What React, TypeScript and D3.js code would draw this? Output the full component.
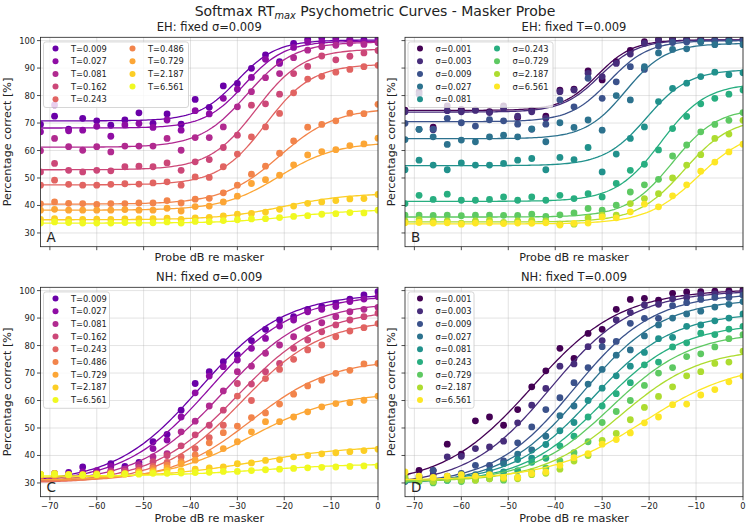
import React from 'react';
import * as d3 from 'd3';

// ---------- data ----------
const probeDb = [-72, -69, -66, -63, -60, -57, -54, -51, -48, -45, -42, -39, -36, -33, -30, -27, -24, -21, -18, -15, -12, -9, -6, -3, 0];
const xTickValues = [-70, -60, -50, -40, -30, -20, -10, 0];
const yTickValues = [30, 40, 50, 60, 70, 80, 90, 100];
const temperatureLabels = ['T=0.009', 'T=0.027', 'T=0.081', 'T=0.162', 'T=0.243', 'T=0.486', 'T=0.729', 'T=2.187', 'T=6.561'];
const sigmaLabels = ['σ=0.001', 'σ=0.003', 'σ=0.009', 'σ=0.027', 'σ=0.081', 'σ=0.243', 'σ=0.729', 'σ=2.187', 'σ=6.561'];
const panelTitles = ['EH: fixed σ=0.009', 'EH: fixed T=0.009', 'NH: fixed σ=0.009', 'NH: fixed T=0.009'];
const panelLetters = ['A', 'B', 'C', 'D'];

// EH, fixed sigma (rows: temperature)
const ehFixedSigmaPoints = [
  [69.5, 72.5, 67.8, 71.7, 70.8, 69.2, 71.1, 73.7, 69.9, 73.3, 69.6, 78.6, 75.7, 83.5, 84.4, 89.9, 94.8, 92.3, 99.0, 100.5, 101.0, 100.8, 100.5, 100.3, 100.8],
  [66.8, 76.6, 67.2, 67.4, 68.8, 65.2, 69.3, 69.8, 68.4, 71.1, 67.4, 74.5, 73.3, 79.0, 82.3, 86.6, 93.2, 91.7, 97.5, 99.5, 99.6, 99.8, 100.2, 99.5, 99.8],
  [59.9, 64.4, 61.4, 60.1, 61.4, 59.5, 61.6, 61.6, 61.6, 64.4, 60.1, 64.7, 64.7, 68.6, 75.9, 81.4, 86.5, 88.0, 93.8, 96.5, 97.8, 98.3, 99.0, 98.6, 99.2],
  [52.2, 55.3, 52.8, 52.2, 52.8, 52.6, 54.1, 54.3, 54.1, 55.5, 52.8, 55.9, 56.7, 61.1, 65.6, 76.5, 77.0, 80.5, 88.0, 90.6, 94.4, 93.0, 94.3, 95.5, 96.4],
  [47.4, 49.2, 47.7, 47.4, 47.4, 47.7, 47.9, 47.8, 48.2, 48.6, 47.4, 50.4, 50.2, 54.1, 58.7, 65.0, 68.6, 73.5, 81.0, 86.0, 87.0, 88.5, 89.5, 90.5, 91.0],
  [40.6, 41.3, 40.8, 40.7, 40.4, 40.7, 40.7, 40.9, 40.9, 41.8, 40.9, 42.3, 42.6, 44.6, 47.4, 51.4, 54.3, 59.0, 63.5, 68.5, 69.5, 70.8, 73.6, 73.4, 76.8],
  [38.3, 38.6, 38.3, 38.3, 38.3, 38.3, 38.5, 38.3, 38.3, 39.0, 38.0, 39.6, 39.8, 41.3, 43.4, 48.0, 49.4, 51.0, 54.8, 58.4, 59.6, 60.3, 61.8, 62.4, 64.5],
  [34.9, 35.2, 34.9, 34.9, 35.0, 34.9, 35.1, 35.1, 35.2, 35.4, 34.9, 35.5, 35.7, 36.2, 36.8, 37.1, 37.6, 38.6, 39.8, 40.8, 41.3, 41.8, 42.4, 42.5, 44.0],
  [33.6, 34.0, 33.8, 33.6, 33.6, 33.6, 33.8, 33.6, 33.7, 34.0, 33.6, 34.2, 34.1, 34.5, 34.8, 35.1, 35.2, 35.6, 36.0, 36.3, 36.8, 37.0, 37.4, 37.3, 38.3],
];
// fitted psychometric (logistic) parameters: [lower, upper, midpoint dB, slope dB]
const ehFixedSigmaFits = [
  [70.8, 100.2, -30, 4.2],
  [68.2, 99.8, -28.5, 4.3],
  [61.2, 99.5, -28, 5],
  [53, 97, -26, 5],
  [47.5, 91.5, -24, 5],
  [40.5, 75.5, -21, 6],
  [38.3, 63, -21, 6],
  [34.8, 44.5, -20, 7],
  [33.6, 38.5, -18, 7],
];

// EH, fixed T (rows: sigma)
const ehFixedTPoints = [
  [74.7, 81.4, 68.5, 76.2, 75.0, 74.8, 74.1, 76.2, 72.0, 74.7, 72.5, 82.0, 82.3, 89.0, 85.7, 92.3, 96.4, 99.6, 100.5, 100.8, 100.5, 100.8, 100.3, 100.6, 100.5],
  [74.1, 80.5, 67.6, 74.5, 74.1, 74.6, 73.8, 75.4, 72.5, 74.1, 71.7, 81.4, 82.0, 88.1, 86.9, 91.7, 95.1, 99.0, 100.0, 100.2, 100.4, 100.1, 100.2, 100.0, 100.3],
  [69.9, 67.7, 67.8, 71.7, 70.1, 68.9, 71.2, 70.8, 69.6, 67.7, 69.6, 78.4, 75.9, 86.3, 79.0, 85.0, 90.5, 89.5, 98.0, 99.3, 99.5, 99.7, 99.8, 100.0, 99.9],
  [64.0, 67.7, 65.0, 62.2, 63.8, 63.2, 65.0, 65.6, 65.0, 67.9, 63.2, 70.1, 68.4, 71.1, 67.4, 80.0, 78.4, 90.5, 95.5, 96.8, 97.0, 99.5, 98.5, 99.6, 98.5],
  [53.0, 56.5, 54.7, 53.0, 55.5, 54.7, 54.7, 55.3, 56.5, 57.1, 53.0, 57.5, 56.7, 61.1, 52.2, 58.7, 64.4, 68.6, 77.8, 82.6, 84.5, 86.9, 88.5, 87.6, 88.3],
  [40.7, 43.7, 42.2, 44.1, 41.9, 41.9, 42.2, 43.1, 41.9, 43.1, 41.9, 43.7, 42.5, 44.3, 43.1, 48.0, 52.8, 55.0, 60.2, 68.0, 72.4, 77.0, 79.0, 80.5, 82.0],
  [36.5, 36.5, 36.4, 36.5, 36.3, 36.5, 36.5, 36.4, 36.4, 36.8, 36.0, 36.6, 37.3, 38.9, 38.3, 40.1, 44.9, 47.5, 49.5, 58.0, 62.0, 66.8, 69.5, 71.0, 73.8],
  [34.4, 34.8, 34.4, 34.4, 33.6, 34.4, 34.7, 33.8, 34.4, 34.6, 34.4, 33.2, 33.2, 35.5, 36.5, 36.5, 40.7, 42.5, 44.3, 50.0, 54.7, 58.5, 64.4, 66.0, 71.0],
  [33.7, 33.8, 33.6, 33.7, 33.2, 33.6, 33.7, 33.4, 33.6, 33.5, 33.7, 32.9, 33.5, 33.6, 35.8, 35.5, 37.7, 40.5, 39.5, 43.5, 47.5, 52.5, 55.8, 59.5, 62.3],
];
const ehFixedTFits = [
  [74.6, 100.3, -31, 3.8],
  [74.0, 100.2, -30.5, 4],
  [70.5, 100, -28.5, 4.2],
  [64.3, 99, -25, 4.3],
  [54.5, 89.5, -20.5, 4.5],
  [41.5, 84.5, -17.5, 4.8],
  [35.8, 75.5, -15, 4.8],
  [34, 72, -12.5, 5],
  [33.3, 68, -9.5, 5.5],
];

// NH, fixed sigma (rows: temperature)
const nhFixedSigmaPoints = [
  [33.0, 33.5, 33.8, 35.8, 34.0, 37.0, 36.0, 37.5, 45.0, 47.7, 56.5, 66.2, 70.5, 74.1, 76.6, 81.8, 85.9, 89.3, 90.5, 93.2, 94.2, 95.4, 96.9, 98.4, 99.6],
  [32.5, 33.0, 33.0, 34.0, 34.5, 36.0, 35.0, 36.5, 42.5, 45.6, 54.0, 62.8, 68.9, 72.3, 74.7, 79.0, 82.6, 87.1, 89.3, 92.3, 93.2, 94.2, 96.0, 96.9, 97.8],
  [32.0, 32.5, 32.3, 33.0, 33.5, 34.5, 35.0, 36.5, 39.5, 40.7, 48.6, 52.5, 58.0, 63.5, 70.5, 72.5, 77.2, 80.2, 83.2, 86.3, 88.3, 90.5, 92.3, 93.2, 93.9],
  [32.5, 32.8, 32.5, 33.0, 33.5, 34.0, 34.3, 35.6, 37.8, 40.0, 43.5, 47.5, 51.0, 56.5, 66.2, 66.0, 70.5, 73.5, 79.0, 82.0, 85.0, 87.5, 89.3, 90.5, 91.8],
  [32.3, 32.5, 32.3, 32.5, 33.0, 33.2, 33.6, 34.5, 36.0, 37.5, 39.5, 42.5, 46.5, 51.0, 61.6, 60.0, 68.0, 71.3, 75.0, 78.4, 80.2, 83.2, 85.3, 86.5, 88.0],
  [33.0, 33.0, 33.0, 32.8, 32.8, 33.2, 33.5, 34.5, 35.3, 36.5, 37.8, 40.2, 44.6, 48.3, 50.7, 53.8, 55.5, 58.7, 62.3, 65.3, 67.4, 69.9, 71.0, 73.3, 73.5],
  [33.0, 33.2, 32.8, 32.8, 33.0, 33.0, 33.3, 33.6, 34.5, 35.5, 37.0, 38.3, 40.8, 42.5, 45.0, 48.6, 52.3, 52.3, 54.0, 55.9, 57.7, 58.9, 59.2, 60.1, 61.6],
  [33.0, 33.5, 33.0, 33.0, 33.2, 33.5, 33.3, 33.8, 34.0, 34.5, 34.5, 35.0, 35.5, 35.8, 37.0, 37.3, 38.2, 38.5, 39.5, 40.0, 40.6, 41.0, 41.4, 41.8, 42.3],
  [33.2, 33.3, 33.0, 32.8, 33.0, 33.0, 33.3, 33.2, 33.5, 33.5, 33.6, 33.8, 33.9, 34.2, 34.2, 34.5, 34.8, 35.0, 35.3, 35.5, 35.7, 35.8, 36.0, 36.2, 36.2],
];
const nhFixedSigmaFits = [
  [30, 99, -38, 9],
  [30, 98.5, -36, 9],
  [30, 96, -33, 9],
  [30, 93.5, -30, 9],
  [30, 89.5, -29, 8.5],
  [30.5, 75, -27, 8.5],
  [31, 63, -27, 9],
  [32, 43.5, -26, 10],
  [32.5, 37, -25, 10],
];

// NH, fixed T (rows: sigma)
const nhFixedTPoints = [
  [33.0, 34.6, 34.5, 44.1, 40.5, 52.6, 54.0, 51.0, 56.7, 65.0, 70.8, 79.0, 75.3, 84.4, 85.9, 93.2, 96.8, 97.2, 96.5, 99.0, 99.5, 99.6, 99.8, 100.0, 100.3],
  [31.5, 32.5, 33.0, 39.5, 39.7, 42.5, 43.1, 45.2, 51.9, 58.3, 64.4, 72.5, 73.3, 79.6, 81.8, 89.3, 92.0, 94.8, 95.0, 97.0, 97.5, 98.5, 98.8, 99.0, 99.5],
  [31.0, 31.5, 34.6, 32.0, 33.5, 36.4, 36.4, 38.0, 44.6, 50.4, 56.7, 61.0, 66.5, 72.0, 79.6, 81.5, 88.1, 89.9, 89.9, 94.5, 95.6, 96.8, 97.5, 97.5, 98.3],
  [30.5, 31.0, 31.5, 32.5, 33.0, 33.0, 34.5, 37.0, 40.5, 42.0, 47.0, 54.5, 58.0, 66.0, 71.3, 76.5, 78.4, 83.5, 87.5, 90.0, 91.5, 92.5, 94.0, 95.0, 96.0],
  [31.0, 31.5, 30.5, 31.0, 31.5, 32.0, 33.0, 34.0, 38.5, 39.0, 44.0, 49.0, 52.0, 60.0, 64.5, 69.0, 72.5, 77.5, 82.5, 83.0, 87.0, 87.5, 89.0, 90.0, 91.5],
  [31.0, 31.0, 30.5, 31.0, 31.0, 31.5, 32.0, 32.5, 34.5, 37.5, 39.0, 43.5, 47.0, 54.0, 58.0, 62.5, 66.5, 73.0, 74.0, 79.5, 81.0, 84.5, 84.0, 86.0, 87.0],
  [31.0, 30.5, 30.0, 31.0, 30.5, 31.0, 31.5, 31.0, 32.0, 34.0, 35.5, 38.0, 41.0, 45.0, 52.0, 56.0, 60.0, 65.5, 70.0, 72.0, 76.0, 77.0, 79.5, 82.5, 84.0],
  [32.0, 31.0, 30.5, 31.5, 31.0, 31.0, 31.5, 31.5, 31.5, 33.0, 33.5, 35.0, 38.0, 40.0, 45.5, 48.0, 53.0, 57.5, 61.5, 65.0, 69.0, 70.5, 73.5, 74.0, 78.0],
  [34.0, 32.5, 32.0, 32.5, 33.0, 32.5, 33.0, 32.0, 32.0, 33.4, 34.0, 36.4, 39.2, 40.7, 44.1, 45.8, 48.2, 51.9, 54.0, 58.5, 58.7, 62.0, 64.0, 66.8, 68.9],
];
const nhFixedTFits = [
  [29, 100.5, -45, 9.5],
  [29, 100, -41, 8.8],
  [29.5, 99, -36, 8.5],
  [29.5, 97, -34, 8.5],
  [30, 92, -32, 8.5],
  [30, 88, -30, 8.5],
  [30.5, 85, -28, 8.5],
  [30.5, 79, -26, 8.5],
  [31, 74, -21, 10],
];

// ---------- styling / layout ----------
const FONT = 'DejaVu Sans, Verdana, sans-serif';
const plasmaColors = d3.range(9).map((i) => d3.interpolatePlasma(0.2 + 0.1 * i));
const viridisColors = d3.range(9).map((i) => d3.interpolateViridis(i / 8));

const COL_X = [[40.5, 378], [405, 743]];
const ROW_Y = [[37.3, 246.7], [287.3, 496.7]];

type Panel = {
  idx: number;
  col: number;
  row: number;
  points: number[][];
  fits: number[][];
  labels: string[];
  colors: string[];
  legendCols: number;
};

const panels: Panel[] = [
  { idx: 0, col: 0, row: 0, points: ehFixedSigmaPoints, fits: ehFixedSigmaFits, labels: temperatureLabels, colors: plasmaColors, legendCols: 2 },
  { idx: 1, col: 1, row: 0, points: ehFixedTPoints, fits: ehFixedTFits, labels: sigmaLabels, colors: viridisColors, legendCols: 2 },
  { idx: 2, col: 0, row: 1, points: nhFixedSigmaPoints, fits: nhFixedSigmaFits, labels: temperatureLabels, colors: plasmaColors, legendCols: 1 },
  { idx: 3, col: 1, row: 1, points: nhFixedTPoints, fits: nhFixedTFits, labels: sigmaLabels, colors: viridisColors, legendCols: 1 },
];

const logistic = (p: number[], x: number) => p[0] + (p[1] - p[0]) / (1 + Math.exp(-(x - p[2]) / p[3]));

function PanelView({ p }: { p: Panel }) {
  const [x0, x1] = COL_X[p.col];
  const [y0, y1] = ROW_Y[p.row];
  const x = d3.scaleLinear().domain([-72, 0]).range([x0, x1]);
  const y = d3.scaleLinear().domain([25, 101.2]).range([y1, y0]);
  const clipId = `clip-${p.idx}`;
  const fineX = d3.range(-72, 0.001, 0.5);
  const showXLabels = p.row === 1;
  const showYLabels = p.col === 0;

  // legend geometry
  const lgLeft = x0 + 3;
  const lgTop = y0 + 4.6;
  const rowH = 12.7;
  const nRows = p.legendCols === 2 ? 5 : 9;
  const lgW = p.legendCols === 2 ? 145 : 66;
  const lgH = 6.5 + (nRows - 1) * rowH + 8.3;

  return (
    <g>
      <defs>
        <clipPath id={clipId}>
          <rect x={x0} y={y0} width={x1 - x0} height={y1 - y0} />
        </clipPath>
      </defs>
      {/* grid */}
      {xTickValues.map((t) => (
        <line key={'gx' + t} x1={x(t)} x2={x(t)} y1={y0} y2={y1} stroke="#b0b0b0" strokeOpacity={0.45} strokeWidth={0.8} />
      ))}
      {yTickValues.map((t) => (
        <line key={'gy' + t} x1={x0} x2={x1} y1={y(t)} y2={y(t)} stroke="#b0b0b0" strokeOpacity={0.45} strokeWidth={0.8} />
      ))}
      {/* data */}
      <g clipPath={`url(#${clipId})`}>
        {p.points.map((series, si) => {
          const path = d3
            .line<number>()
            .x((d) => x(d))
            .y((d) => y(logistic(p.fits[si], d)))(fineX);
          return (
            <g key={'s' + si}>
              {series.map((v, i) => (
                <circle key={i} cx={x(probeDb[i])} cy={y(v)} r={3.4} fill={p.colors[si]} />
              ))}
              <path d={path || ''} fill="none" stroke={p.colors[si]} strokeWidth={1.3} />
            </g>
          );
        })}
      </g>
      {/* frame */}
      <rect x={x0} y={y0} width={x1 - x0} height={y1 - y0} fill="none" stroke="#222" strokeWidth={0.8} />
      {/* ticks */}
      {xTickValues.map((t) => (
        <g key={'tx' + t}>
          <line x1={x(t)} x2={x(t)} y1={y1} y2={y1 + 3.5} stroke="#222" strokeWidth={0.8} />
          {showXLabels && (
            <text x={x(t)} y={y1 + 12} textAnchor="middle" fontSize={8.3} fontFamily={FONT} fill="#222">
              {t < 0 ? '\u2212' + Math.abs(t) : String(t)}
            </text>
          )}
        </g>
      ))}
      {yTickValues.map((t) => (
        <g key={'ty' + t}>
          <line x1={x0 - 3.5} x2={x0} y1={y(t)} y2={y(t)} stroke="#222" strokeWidth={0.8} />
          {showYLabels && (
            <text x={x0 - 5.5} y={y(t) + 3} textAnchor="end" fontSize={8.3} fontFamily={FONT} fill="#222">
              {t}
            </text>
          )}
        </g>
      ))}
      {/* labels */}
      <text x={(x0 + x1) / 2} y={y0 - 6} textAnchor="middle" fontSize={11.5} fontFamily={FONT} fill="#222">
        {panelTitles[p.idx]}
      </text>
      <text x={(x0 + x1) / 2} y={showXLabels ? y1 + 25.5 : y1 + 14} textAnchor="middle" fontSize={11.2} fontFamily={FONT} fill="#222">
        Probe dB re masker
      </text>
      <text
        transform={`translate(${p.col === 0 ? 11 : 395},${(y0 + y1) / 2}) rotate(-90)`}
        textAnchor="middle"
        fontSize={11.2}
        fontFamily={FONT}
        fill="#222"
      >
        Percentage correct [%]
      </text>
      <text x={x0 + 6} y={y1 - 5} fontSize={13.5} fontFamily={FONT} fill="#222">
        {panelLetters[p.idx]}
      </text>
      {/* legend */}
      <g>
        <rect x={lgLeft} y={lgTop} width={lgW} height={lgH} rx={2.5} fill="#fff" fillOpacity={0.8} stroke="#ccc" strokeWidth={0.8} />
        {p.labels.map((lab, i) => {
          const c = p.legendCols === 2 && i >= 5 ? 1 : 0;
          const r = c === 1 ? i - 5 : i;
          const cy = lgTop + 6.6 + r * rowH;
          const mx = lgLeft + 12 + c * 77;
          return (
            <g key={lab}>
              <circle cx={mx} cy={cy} r={3} fill={p.colors[i]} />
              <text x={mx + 15.5} y={cy + 3} fontSize={8.3} fontFamily={FONT} fill="#222">
                {lab}
              </text>
            </g>
          );
        })}
      </g>
    </g>
  );
}

export default function App() {
  return (
    <svg width={750} height={526} style={{ position: 'absolute', left: 0, top: 0, background: '#fff' }}>
      <rect width={750} height={526} fill="#fff" />
      <text x={375} y={16} textAnchor="middle" fontSize={14} fontFamily={FONT} fill="#222">
        <tspan>Softmax RT</tspan>
        <tspan fontStyle="italic" fontSize={9.8} dy={3}>max</tspan>
        <tspan dy={-3}> Psychometric Curves - Masker Probe</tspan>
      </text>
      {panels.map((p) => (
        <PanelView key={p.idx} p={p} />
      ))}
    </svg>
  );
}
